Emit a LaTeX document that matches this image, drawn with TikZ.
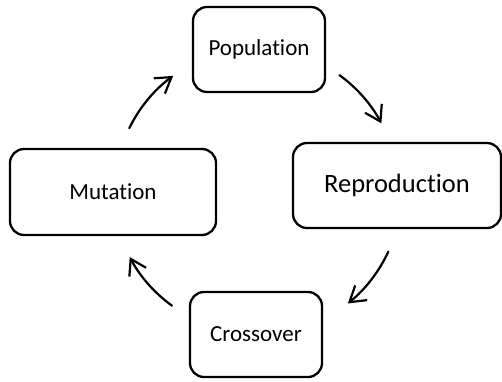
\documentclass[tikz,border=0pt]{standalone}
\usepackage{fontspec}
\setmainfont{Carlito}[Ligatures=NoCommon]
\usetikzlibrary{arrows.meta,calc}
\begin{document}
\begin{tikzpicture}[x=1pt,y=1pt,
  stage/.style={draw=black, line width=2.3pt, rounded corners=14pt,
    fill=white, inner sep=0pt, font=\fontsize{23}{27}\selectfont},
  flow/.style={line width=2.2pt, line cap=round,
    -{Straight Barb[length=15pt,width=19pt,line width=2.2pt]}}]
  \useasboundingbox (0,0) rectangle (502,381);
  % the four stages of the cycle (y measured upward)
  \node[stage, minimum width=132pt, minimum height=85pt] (pop) at (259,331.5) {Population};
  \node[stage, minimum width=208pt, minimum height=85pt,
        font=\fontsize{26.5}{31}\selectfont] (rep) at (397,195.5) {Reproduction};
  \node[stage, minimum width=206pt, minimum height=86pt] (mut) at (113,189) {Mutation};
  \node[stage, minimum width=132pt, minimum height=85pt] (cro) at (256,46.5) {Crossover};
  % arrows follow a circle round the middle of the cycle
  \coordinate (ctr) at (256,191);
  \coordinate (a1) at ($(ctr)+(154:141)$);
  \coordinate (a2) at ($(ctr)+(54:142)$);
  \coordinate (a3) at ($(ctr)+(-25:146)$);
  \coordinate (a4) at ($(ctr)+(234:143)$);
  \draw[flow] (a1) arc[start angle=154, end angle=126, radius=141];
  \draw[flow] (a2) arc[start angle=54, end angle=28, radius=142];
  \draw[flow] (a3) arc[start angle=-25, end angle=-51, radius=146];
  \draw[flow] (a4) arc[start angle=234, end angle=208, radius=143];
\end{tikzpicture}
\end{document}
